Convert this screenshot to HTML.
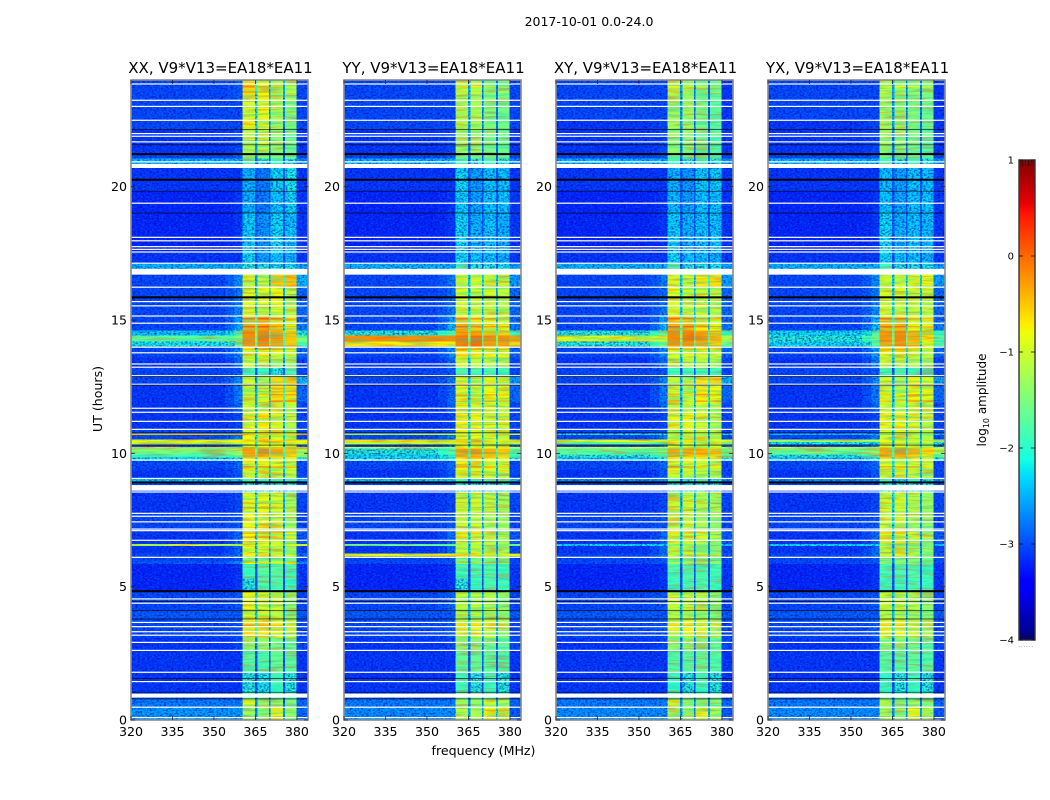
<!DOCTYPE html>
<html>
<head>
<meta charset="utf-8">
<title>2017-10-01 0.0-24.0</title>
<style>
html,body{margin:0;padding:0;background:#fff;width:1050px;height:800px;overflow:hidden}
svg{display:block}
text{font-family:"DejaVu Sans","Liberation Sans",sans-serif;fill:#000}
</style>
</head>
<body>
<svg id="fig" xmlns="http://www.w3.org/2000/svg" width="1050" height="800" viewBox="0 0 1050 800">
<defs>
<filter id="darkNoise" x="0" y="0" width="100%" height="100%" color-interpolation-filters="sRGB">
<feTurbulence type="fractalNoise" baseFrequency="0.42 0.6" numOctaves="2" seed="4"/>
<feColorMatrix values="0 0 0 0 0  0 0 0 0 0  0 0 0 0 0.7  3.2 0 0 0 -1.35"/>
</filter>
<filter id="lightNoise" x="0" y="0" width="100%" height="100%" color-interpolation-filters="sRGB">
<feTurbulence type="fractalNoise" baseFrequency="0.42 0.6" numOctaves="2" seed="11"/>
<feColorMatrix values="0 0 0 0 0  0 0 0 0 0.5  0 0 0 0 1  0 3.2 0 0 -1.45"/>
</filter>
<filter id="coolBands" x="0" y="0" width="100%" height="100%" color-interpolation-filters="sRGB">
<feTurbulence type="fractalNoise" baseFrequency="0.035 0.42" numOctaves="2" seed="7"/>
<feColorMatrix values="0 0 0 0 0  0 0 0 0 0.8  0 0 0 0 0.8  5 0 0 0 -2.2"/>
</filter>
<filter id="hotBands" x="0" y="0" width="100%" height="100%" color-interpolation-filters="sRGB">
<feTurbulence type="fractalNoise" baseFrequency="0.035 0.42" numOctaves="2" seed="19"/>
<feColorMatrix values="0 0 0 0 1  0 0 0 0 0.3  0 0 0 0 0  0 5 0 0 -2.5"/>
</filter>
</defs>
</svg>
<script>
// ---------- chart data ----------
const panelTitles = ['XX, V9*V13=EA18*EA11','YY, V9*V13=EA18*EA11','XY, V9*V13=EA18*EA11','YX, V9*V13=EA18*EA11'];
const xTicks = [320,335,350,365,380];
const yTicks = [0,5,10,15,20];
const colorbarTicks = [1,0,-1,-2,-3,-4];
// frequency band edges (MHz)
const freqEdges = [320,354,357.5,360.4,364.8,365.7,369.9,370.5,375,375.6,379.9,384];
// upper hour of every time row
const rowTops = [24,23.6,23.24,22.49,22.14,21.57,21.22,21.05,20.7,19.83,19.01,17.55,17.13,16.7,16.23,15.5,15.15,14.9,14.6,14.42,14.2,14,13.6,13.2,12.9,12.56,11.9,11.54,10.9,10.75,10.68,10.52,10.42,10.33,10.24,10.18,9.95,9.85,9.72,9.4,9.06,8.91,8.55,7.75,7.1,6.6,6.52,6.24,6.14,5.95,5.85,5.3,4.83,4.1,3.79,3.1,2.6,1.8,1.04,0.79,0.48];
// log10 amplitude per row: [background, shoulder, sub-band 1, 2, 3, 4, upper edge]
const levelsXX = [
[-3,-2.9,-.6,-.75,-1.15,-1.25,-3],[-3,-2.9,-.65,-.85,-1.25,-1.3,-3],[-3,-3,-.95,-.85,-1.25,-1.4,-3],[-3,-3,-.75,-1,-1.35,-1.5,-3],
[-3.1,-3,-1.1,-1.05,-1.4,-1.6,-3.1],[-3.1,-3,-1.2,-1.2,-1.4,-1.6,-3.1],[-3,-2.9,-1.4,-1.4,-1.5,-1.6,-3],[-2.4,-2.4,-1.9,-2,-1.9,-2,-2.6],
[-3.1,-3.1,-2.4,-2.7,-2.2,-2.1,-3.1],[-3.2,-3.1,-2.4,-2.7,-2.3,-2.2,-3.1],[-3.2,-3.1,-2.25,-2.55,-2.2,-2.3,-3.1],[-3.1,-3.1,-2.2,-2.5,-2.3,-2.4,-3.1],
[-2.4,-2.4,-2,-2,-2.1,-2.1,-2.5],[-3,-2.6,-1,-1.1,-.55,-.5,-2.4],[-3,-2.7,-.9,-.9,-.8,-1.1,-2.8],[-3,-2.6,-1,-1,-.9,-1.1,-2.8],
[-3,-2.5,-.5,-.4,-.7,-.95,-2.8],[-3,-2.4,-.4,-.35,-.7,-.9,-2.7],[-2.3,-1.9,-.2,-.15,-.35,-.5,-2],[-1.7,-1.4,-.2,-.1,-.3,-.5,-1.5],
[-2.1,-1.7,-.25,-.2,-.35,-.6,-1.8],[-3,-2.6,-.9,-.8,-.9,-1,-2.8],[-3.1,-2.8,-1,-1.1,-1.3,-1.2,-3],[-3,-2.9,-1.9,-1.9,-2,-1.9,-3],
[-3,-2.6,-1,-1.2,-.6,-.55,-2.4],[-3.1,-2.7,-1.05,-1.1,-.65,-.7,-2.8],[-3.1,-2.8,-1,-1.05,-.9,-1,-3],[-3.1,-3,-.85,-.75,-.95,-1.1,-3],
[-3,-2.9,-.9,-.9,-1,-1.1,-3],[-.5,-.5,-.5,-.5,-.6,-.6,-.5],[-3,-2.7,-.8,-.75,-.9,-1.1,-3],[-.75,-.75,-.6,-.6,-.7,-.7,-.75],
[-1,-1,-.8,-.8,-.9,-1,-1],[-3,-2.6,-.9,-.9,-1,-1.1,-2.8],[-.6,-.6,-.5,-.5,-.5,-.5,-.6],[-1.5,-1.3,-.3,-.2,-.35,-.5,-1.2],
[-1.9,-1.5,-.4,-.4,-.5,-.6,-1.5],[-2.2,-2,-.7,-.8,-.8,-.9,-2],[-3,-2.8,-.85,-.75,-.9,-1,-3],[-3.1,-2.9,-1,-.9,-1.1,-1.15,-3],
[-2.3,-2.3,-1.7,-1.9,-1.8,-1.9,-2.3],[-3,-3,-2,-2,-2,-2,-3],[-3.1,-3,-.9,-.85,-.95,-1.2,-3],[-3,-2.9,-.85,-.8,-1,-1.2,-3],
[-3.1,-2.8,-.8,-.85,-1,-1.2,-2.9],[-1,-1,-.9,-.9,-.9,-1,-1],[-3.1,-2.8,-.9,-.9,-1.05,-1.3,-3],[-3,-2.7,-.8,-.8,-.9,-1,-2.8],
[-3,-2.9,-1.5,-1.5,-1.5,-1.6,-3],[-2.9,-2.5,-.8,-.7,-.8,-.9,-2.6],[-3.2,-3.1,-1.9,-1.7,-1.7,-1.8,-3.1],[-3.2,-3.1,-2,-1.8,-1.8,-1.9,-3.1],
[-3,-2.9,-.85,-.9,-1,-1.35,-3],[-2.9,-2.9,-1,-1,-1.1,-1.4,-2.9],[-3,-2.9,-.7,-.65,-.8,-1.05,-3],[-3.1,-3,-1.3,-1.4,-1.5,-1.6,-3],
[-3.1,-3.1,-1.7,-1.8,-1.6,-1.7,-3.1],[-3.1,-3.1,-2,-2.1,-1.9,-2,-3.1],[-3,-3,-1.9,-1.9,-1.9,-1.9,-3],[-2.7,-2.7,-.9,-1.4,-1.4,-1.6,-2.8],
[-2.55,-2.55,-1.3,-1.4,-.9,-1.3,-2.8]];
const levelsYY = [
[-3,-3,-1.1,-1.15,-1.4,-1.5,-3],[-3,-3,-1.15,-1.2,-1.45,-1.5,-3],[-3,-3,-1.2,-1.2,-1.45,-1.55,-3],[-3,-3,-1.15,-1.2,-1.45,-1.55,-3],
[-3.1,-3,-1.25,-1.3,-1.5,-1.6,-3.1],[-3.1,-3,-1.3,-1.35,-1.5,-1.6,-3.1],[-3,-2.9,-1.5,-1.5,-1.6,-1.7,-3],[-2.4,-2.4,-1.9,-2,-1.9,-2,-2.6],
[-3.1,-3.1,-2.2,-2.5,-2.3,-2.3,-3.1],[-3.2,-3.1,-2.25,-2.5,-2.3,-2.3,-3.1],[-3.2,-3.1,-2.2,-2.4,-2.3,-2.4,-3.1],[-3.1,-3.1,-2.2,-2.3,-2.3,-2.4,-3.1],
[-2.4,-2.4,-1.9,-2,-2,-2.1,-2.5],[-3,-2.7,-1,-1,-1,-1.05,-2.5],[-3,-2.8,-.95,-1,-1,-1.1,-2.8],[-3,-2.7,-.95,-1,-1,-1.1,-2.8],
[-3,-2.5,-.55,-.7,-.85,-1,-2.8],[-3,-2.4,-.4,-.6,-.8,-.95,-2.7],[-2,-1.8,-.3,-.3,-.5,-.55,-1.9],[-.2,-.2,-.1,-.05,-.2,-.2,-.3],
[-.7,-.7,-.15,-.1,-.3,-.3,-.6],[-3,-2.6,-.7,-.75,-.8,-.9,-2.8],[-3.1,-2.8,-.95,-1.1,-1.1,-1.2,-3],[-3,-2.9,-1.8,-1.8,-1.8,-1.9,-3],
[-3,-2.7,-.85,-1.05,-.85,-.9,-2.5],[-3.1,-2.8,-.85,-1,-.8,-.9,-2.8],[-3.1,-2.9,-.85,-1,-.9,-1,-3],[-3.1,-3,-.75,-.8,-.9,-1,-3],
[-3,-2.9,-.85,-.9,-1,-1.1,-3],[-1.1,-1.1,-.9,-.9,-1,-1,-1.1],[-3,-2.7,-.85,-.85,-.95,-1.1,-3],[-.65,-.65,-.55,-.6,-.7,-.7,-.65],
[-1.1,-1.1,-.9,-.9,-1,-1,-1.1],[-3,-2.6,-.9,-.95,-1,-1.1,-2.8],[-.9,-.9,-.7,-.7,-.8,-.8,-.9],[-2,-1.8,-.35,-.3,-.4,-.5,-1.8],
[-2.2,-1.9,-.4,-.4,-.5,-.6,-1.9],[-2.2,-2,-.7,-.8,-.8,-.9,-2],[-3,-2.8,-.75,-.8,-.9,-1,-3],[-3.1,-2.9,-.9,-.95,-1,-1.1,-3],
[-2.3,-2.3,-1.7,-1.9,-1.8,-1.9,-2.3],[-3,-3,-2,-2,-2,-2,-3],[-3.1,-3,-1,-1,-1.1,-1.25,-3],[-3,-2.9,-1,-.95,-1.2,-1.3,-3],
[-3.1,-2.8,-.9,-.95,-1.1,-1.3,-2.9],[-1.6,-1.6,-1.2,-1.2,-1.2,-1.3,-1.6],[-3.1,-2.8,-1,-.95,-1.15,-1.3,-3],[-.85,-.85,-.7,-.7,-.75,-.8,-.85],
[-3,-2.9,-1.5,-1.5,-1.5,-1.6,-3],[-3,-2.9,-1.3,-1.3,-1.3,-1.4,-3],[-3.2,-3.1,-1.85,-1.8,-1.75,-1.85,-3.1],[-3.2,-3.1,-2,-1.9,-1.8,-1.9,-3.1],
[-3,-2.8,-1.05,-1.1,-1.15,-1.35,-3],[-2.9,-2.9,-1.2,-1.15,-1.25,-1.4,-2.9],[-3,-2.9,-.95,-.85,-1,-1.25,-3],[-3.1,-3,-1.4,-1.4,-1.5,-1.65,-3],
[-3.1,-3.1,-1.65,-1.65,-1.65,-1.75,-3.1],[-3.1,-3.1,-1.9,-2,-1.9,-2,-3.1],[-3,-3,-1.8,-1.8,-1.8,-1.9,-3],[-2.7,-2.7,-1.3,-1.35,-1,-1.3,-2.8],
[-2.6,-2.6,-1.15,-1.2,-.75,-.95,-2.9]];
const levelsXY = [
[-3,-3,-1.25,-1.25,-1.45,-1.6,-3.1],[-3,-3,-1.25,-1.25,-1.5,-1.65,-3.1],[-3,-3,-1.3,-1.25,-1.5,-1.7,-3.1],[-3.1,-3,-1.25,-1.3,-1.55,-1.7,-3.1],
[-3.1,-3,-1.35,-1.35,-1.55,-1.75,-3.1],[-3.1,-3,-1.4,-1.4,-1.6,-1.75,-3.1],[-3,-2.9,-1.5,-1.5,-1.6,-1.8,-3],[-2.4,-2.4,-1.9,-2,-1.9,-2,-2.6],
[-3.1,-3.1,-2.4,-2.55,-2.25,-2.25,-3.1],[-3.2,-3.1,-2.35,-2.5,-2.3,-2.3,-3.1],[-3.2,-3.1,-2.25,-2.4,-2.3,-2.3,-3.1],[-3.1,-3.1,-2.2,-2.3,-2.3,-2.4,-3.1],
[-2.4,-2.4,-1.9,-2,-2,-2.1,-2.5],[-3,-2.7,-1,-1.05,-.7,-.65,-2.5],[-3,-2.8,-.9,-1,-.95,-1.1,-2.8],[-3,-2.7,-.95,-1,-1,-1.1,-2.8],
[-3,-2.5,-.55,-.55,-.8,-.95,-2.8],[-3,-2.4,-.4,-.4,-.7,-.9,-2.7],[-2,-1.7,-.2,-.15,-.4,-.5,-1.8],[-.95,-.95,-.2,-.1,-.3,-.4,-1.2],
[-2,-1.6,-.3,-.25,-.4,-.55,-1.6],[-3,-2.6,-.9,-.85,-.9,-1,-2.8],[-3.1,-2.8,-1.05,-1.05,-1.15,-1.2,-3],[-3,-2.9,-1.85,-1.85,-1.85,-1.9,-3],
[-3,-2.6,-1.05,-1.15,-.7,-.6,-2.4],[-3.1,-2.7,-1,-1.1,-.7,-.8,-2.8],[-3.1,-2.8,-1,-1.05,-.95,-1.1,-3],[-3.1,-3,-.85,-.8,-.95,-1.2,-3],
[-3,-2.9,-1,-.9,-1.05,-1.15,-3],[-2,-2,-1.2,-1.2,-1.2,-1.2,-2],[-3,-2.7,-1,-.95,-1.1,-1.2,-3],[-.85,-.85,-.7,-.7,-.8,-.8,-.85],
[-1.6,-1.6,-1,-1,-1.1,-1.1,-1.5],[-3,-2.6,-1,-1,-1.05,-1.1,-2.8],[-.8,-.8,-.65,-.65,-.7,-.7,-.8],[-1.7,-1.5,-.4,-.35,-.4,-.5,-1.4],
[-2,-1.7,-.5,-.5,-.55,-.65,-1.7],[-2.3,-2,-.8,-.8,-.85,-.95,-2],[-3,-2.8,-.85,-.9,-1,-1.1,-3],[-3.1,-2.9,-1,-1.05,-1.1,-1.2,-3],
[-2.6,-2.6,-1.8,-2,-1.9,-2,-2.6],[-3,-3,-2,-2,-2,-2,-3],[-3.1,-3,-1.05,-1,-1.15,-1.25,-3],[-3,-2.9,-1,-1,-1.2,-1.35,-3],
[-3.1,-2.8,-1,-1,-1.15,-1.35,-2.9],[-2.2,-2.2,-1.3,-1.3,-1.4,-1.5,-2.3],[-3.1,-2.8,-1.1,-1.05,-1.25,-1.4,-3],[-3,-2.7,-1,-.95,-1.1,-1.25,-2.9],
[-3,-2.9,-1.5,-1.5,-1.5,-1.6,-3],[-3,-2.9,-1.3,-1.25,-1.3,-1.4,-3],[-3.2,-3.1,-1.8,-1.75,-1.75,-1.85,-3.1],[-3.2,-3.1,-1.9,-1.85,-1.8,-1.9,-3.1],
[-3,-2.9,-1,-1.05,-1.15,-1.4,-3],[-2.9,-2.9,-1.15,-1.15,-1.25,-1.45,-2.9],[-3,-2.9,-.85,-.8,-.95,-1.2,-3],[-3.1,-3,-1.4,-1.4,-1.5,-1.65,-3],
[-3.1,-3.1,-1.7,-1.7,-1.65,-1.75,-3.1],[-3.1,-3.1,-1.95,-2,-1.9,-2,-3.1],[-3,-3,-1.85,-1.85,-1.85,-1.9,-3],[-2.7,-2.7,-1.1,-1.35,-1.3,-1.5,-2.8],
[-2.6,-2.6,-1.25,-1.35,-.85,-1.25,-2.9]];
const levelsYX = [
[-3,-3,-1.2,-1.25,-1.4,-1.5,-3.1],[-3,-3,-1.25,-1.3,-1.45,-1.55,-3.1],[-3,-3,-1.25,-1.3,-1.45,-1.55,-3.1],[-3.1,-3,-1.25,-1.3,-1.5,-1.6,-3.1],
[-3.1,-3,-1.3,-1.35,-1.5,-1.65,-3.1],[-3.1,-3,-1.35,-1.4,-1.55,-1.7,-3.1],[-3,-2.9,-1.5,-1.5,-1.6,-1.75,-3],[-2.4,-2.4,-1.9,-2,-1.9,-2,-2.6],
[-3.1,-3.1,-2.3,-2.5,-2.3,-2.3,-3.1],[-3.2,-3.1,-2.3,-2.45,-2.3,-2.3,-3.1],[-3.2,-3.1,-2.2,-2.4,-2.3,-2.35,-3.1],[-3.1,-3.1,-2.2,-2.3,-2.3,-2.4,-3.1],
[-2.4,-2.4,-1.9,-2,-2,-2.1,-2.5],[-3,-2.6,-1,-1,-.9,-.85,-2.5],[-3,-2.7,-.9,-.95,-1,-1.05,-2.8],[-3,-2.6,-.95,-.95,-1.05,-1.1,-2.8],
[-3,-2.4,-.5,-.55,-.85,-.95,-2.8],[-3,-2.3,-.45,-.45,-.8,-.95,-2.7],[-2.2,-1.8,-.25,-.2,-.45,-.6,-1.9],[-2,-1.6,-.25,-.15,-.4,-.7,-1.8],
[-2.2,-1.7,-.35,-.25,-.5,-.8,-1.8],[-3,-2.5,-.85,-.8,-.95,-1.1,-2.8],[-3.1,-2.7,-.95,-1.05,-1.15,-1.25,-3],[-3,-2.9,-1.85,-1.85,-1.9,-1.9,-3],
[-3,-2.6,-1,-1.2,-.75,-.95,-2.5],[-3.1,-2.7,-.95,-1.1,-.75,-.85,-2.8],[-3.1,-2.8,-.9,-1.05,-.95,-1.05,-3],[-3.1,-3,-.8,-.8,-.95,-1.1,-3],
[-3,-2.9,-.95,-.9,-1,-1.15,-3],[-2.3,-2.3,-1.3,-1.3,-1.3,-1.3,-2.3],[-3,-2.7,-.95,-.95,-1.05,-1.15,-3],[-1.2,-1.2,-.8,-.8,-.9,-1,-1.2],
[-2.1,-2.1,-1,-1,-1.1,-1.1,-2],[-3,-2.6,-.95,-.95,-1.05,-1.1,-2.8],[-.8,-.8,-.6,-.5,-.7,-.8,-.8],[-1.6,-1.4,-.35,-.25,-.4,-.6,-1.3],
[-2,-1.7,-.4,-.4,-.55,-.7,-1.6],[-2.3,-2,-.75,-.8,-.85,-.95,-2],[-3,-2.8,-.9,-.9,-1,-1.1,-3],[-3.1,-2.9,-1,-1,-1.1,-1.2,-3],
[-2.6,-2.6,-1.8,-2,-1.9,-2,-2.6],[-3,-3,-2,-2,-2,-2,-3],[-3.1,-3,-1,-1,-1.15,-1.3,-3],[-3,-2.9,-1,-.95,-1.2,-1.35,-3],
[-3.1,-2.8,-.95,-1,-1.15,-1.35,-2.9],[-2.2,-2.2,-1.3,-1.3,-1.4,-1.5,-2.3],[-3.1,-2.8,-1.05,-1.05,-1.25,-1.4,-3],[-3,-2.7,-.95,-.95,-1.1,-1.25,-2.9],
[-3,-2.9,-1.5,-1.5,-1.5,-1.6,-3],[-3,-2.9,-1.3,-1.3,-1.3,-1.4,-3],[-3.2,-3.1,-1.8,-1.8,-1.75,-1.85,-3.1],[-3.2,-3.1,-1.9,-1.85,-1.8,-1.9,-3.1],
[-3,-2.9,-1,-1.05,-1.15,-1.4,-3],[-2.9,-2.9,-1.15,-1.15,-1.25,-1.45,-2.9],[-3,-2.9,-.85,-.85,-1,-1.2,-3],[-3.1,-3,-1.4,-1.4,-1.5,-1.65,-3],
[-3.1,-3.1,-1.7,-1.7,-1.65,-1.75,-3.1],[-3.1,-3.1,-1.95,-2,-1.9,-2,-3.1],[-3,-3,-1.85,-1.85,-1.85,-1.9,-3],[-2.7,-2.7,-1.2,-1.35,-1.3,-1.5,-2.8],
[-2.6,-2.6,-1.25,-1.35,-.85,-1.25,-2.9]];
// brief narrow RFI streaks across the bright sub-bands, in hours
const streakHours = [23.55,23.75,22.0,15.05,14.75,13.9,12.2,11.95,11.4,9.5,9.3,7.95,7.0,6.85,3.55,0.7];
const streakBoost = [0.4,0.4,0.35,0.45,0.4,0.4,0.35,0.35,0.35,0.4,0.4,0.35,0.4,0.4,0.3,0.2];
// flagged (blank) integrations, in hours
const whiteLineHours = [23.85,23.24,23.01,22.49,21.99,21.89,21.68,20.93,19.38,18.1,17.97,17.75,17.65,17.55,17.13,16.23,15.69,15.53,15.15,14.88,13.98,13.77,13.35,13.23,12.91,12.59,11.69,11.54,11.2,10.9,9.75,9.06,8.55,7.75,7.64,7.43,7.16,7.1,6.74,6.1,4.54,4.38,3.66,3.5,3.31,3.18,2.91,2.61,1.79,1.44,0.48,0.09];
const whiteBlockFrom = [20.7,16.7,8.6,0.84];
const whiteBlockTo = [20.85,16.92,8.81,0.99];
const blackLineHours = [22.14,21.57,19.83,19.01,12.88,12.56,10.77,10.31,4.44,4.1,3.79,1.56,1.04,0.79];
const blackThickHours = [21.22,20.26,15.85,8.91,4.83];

// ---------- axes ----------
const panelLeft = [131,344,556,768];
const panelMatrices = [levelsXX,levelsYY,levelsXY,levelsYX];
const panelW = 177, axisTop = 80, axisBottom = 720;
const xScale = (left,f) => left + (f-320)*panelW/64;
const yScale = h => axisBottom - h*(axisBottom-axisTop)/24;
const svg = document.getElementById('fig');
const defs = svg.querySelector('defs');
const NS = 'http://www.w3.org/2000/svg';

function mk(tag, attrs, parent){
  const e = document.createElementNS(NS, tag);
  for (const k in attrs) e.setAttribute(k, attrs[k]);
  (parent||svg).appendChild(e);
  return e;
}
function interp(stops, t){
  for (let i=1;i<stops.length;i++){
    if (t<=stops[i][0]){
      const a=stops[i-1], b=stops[i];
      return a[1]+(b[1]-a[1])*(t-a[0])/(b[0]-a[0]);
    }
  }
  return stops[stops.length-1][1];
}
function jet(v){
  const t = Math.max(0, Math.min(1, (v+4)/5));
  const r = interp([[0,0],[0.35,0],[0.66,1],[0.89,1],[1,0.5]], t);
  const g = interp([[0,0],[0.125,0],[0.375,1],[0.64,1],[0.91,0],[1,0]], t);
  const b = interp([[0,0.5],[0.11,1],[0.34,1],[0.65,0],[1,0]], t);
  return 'rgb('+Math.round(r*255)+','+Math.round(g*255)+','+Math.round(b*255)+')';
}
function gapLevel(a, b){
  return Math.max(Math.min(a,b)-1.2, -2.9);
}
function bandLevel(row, band){
  switch (band){
    case 0: return row[0];
    case 1: return row[0]+(row[1]-row[0])*0.35;
    case 2: return row[1];
    case 3: return row[2];
    case 4: return gapLevel(row[2],row[3]);
    case 5: return row[3];
    case 6: return gapLevel(row[3],row[4]);
    case 7: return row[4];
    case 8: return gapLevel(row[4],row[5]);
    case 9: return row[5];
    default: return row[6];
  }
}

// ---------- panels ----------
panelLeft.forEach((left, p) => {
  const group = mk('g', {});
  
  
  const matrix = panelMatrices[p];

  const cells = mk('g', {'shape-rendering':'crispEdges'}, group);
  
  
  rowTops.forEach((top, r) => {
    const bottom = r+1<rowTops.length ? rowTops[r+1] : 0;
    for (let b=0; b<freqEdges.length-1; b++){
      const x0 = xScale(left, freqEdges[b]), x1 = xScale(left, freqEdges[b+1]);
      const cell = mk('rect', {x:x0, y:yScale(top), width:x1-x0, height:yScale(bottom)-yScale(top), fill:jet(bandLevel(matrix[r], b))}, cells);
      
      
    }
  });

  // narrow streaks over the four bright sub-bands
  streakHours.forEach((h, s) => {
    let r = 0;
    while (r+1 < rowTops.length && rowTops[r+1] >= h) r++;
    [3,5,7,9].forEach(b => {
      const x0 = xScale(left, freqEdges[b]), x1 = xScale(left, freqEdges[b+1]);
      const streak = mk('rect', {x:x0, y:yScale(h)-0.7, width:x1-x0, height:1.4, fill:jet(bandLevel(matrix[r], b)+streakBoost[s])}, cells);
      
      
    });
  });

  // texture follows the level table: speckle on weak cells, banding on bright cells
  const clip = mk('clipPath', {id:'speckle-clip-'+p}, defs);
  const brightClip = mk('clipPath', {id:'bright-clip-'+p}, defs);
  rowTops.forEach((top, r) => {
    const bottom = r+1<rowTops.length ? rowTops[r+1] : 0;
    const y0 = yScale(top), y1 = yScale(bottom);
    for (let b=0; b<freqEdges.length-1; b++){
      const x0 = xScale(left, freqEdges[b]), x1 = xScale(left, freqEdges[b+1]);
      mk('rect', {x:x0, y:y0, width:x1-x0, height:y1-y0}, bandLevel(matrix[r], b) < -1.95 ? clip : brightClip);
    }
  });
  const speckle = mk('g', {'clip-path':'url(#speckle-clip-'+p+')'}, group);
  
  
  const dark = mk('rect', {x:left, y:axisTop, width:panelW, height:axisBottom-axisTop, filter:'url(#darkNoise)', opacity:0.65}, speckle);
  
  
  const light = mk('rect', {x:left, y:axisTop, width:panelW, height:axisBottom-axisTop, filter:'url(#lightNoise)', opacity:0.38}, speckle);
  
  

  const banding = mk('g', {'clip-path':'url(#bright-clip-'+p+')'}, group);
  
  
  const cool = mk('rect', {x:left, y:axisTop, width:panelW, height:axisBottom-axisTop, filter:'url(#coolBands)', opacity:0.3}, banding);
  
  
  const hot = mk('rect', {x:left, y:axisTop, width:panelW, height:axisBottom-axisTop, filter:'url(#hotBands)', opacity:0.3}, banding);
  
  

  whiteLineHours.forEach(h => {
    const line = mk('rect', {x:left, y:yScale(h)-0.6, width:panelW, height:1.2, fill:'#fff'}, group);
    
    
  });
  whiteBlockFrom.forEach((from, i) => {
    const block = mk('rect', {x:left, y:yScale(whiteBlockTo[i]), width:panelW, height:yScale(from)-yScale(whiteBlockTo[i]), fill:'#fff'}, group);
    
    
  });
  blackLineHours.forEach(h => {
    const line = mk('rect', {x:left, y:yScale(h)-0.4, width:panelW, height:0.8, fill:'#000', opacity:0.75}, group);
    
    
  });
  blackThickHours.forEach(h => {
    const line = mk('rect', {x:left, y:yScale(h)-1, width:panelW, height:2, fill:'#000'}, group);
    
    
  });

  const frame = mk('rect', {x:left, y:axisTop, width:panelW, height:axisBottom-axisTop, fill:'none', stroke:'#8a8a8a', 'stroke-width':1.6}, group);
  
  

  xTicks.forEach(f => {
    const x = xScale(left, f);
    const tb = mk('line', {x1:x, x2:x, y1:axisBottom, y2:axisBottom-4, stroke:'#222', 'stroke-width':0.8}, group);
    
    
    const tt = mk('line', {x1:x, x2:x, y1:axisTop, y2:axisTop+4, stroke:'#222', 'stroke-width':0.8}, group);
    
    
    const label = mk('text', {x:x, y:736, 'text-anchor':'middle', 'font-size':12.6}, group);
    label.textContent = f;
    
    
  });
  yTicks.forEach(h => {
    const y = yScale(h);
    const tl = mk('line', {x1:left, x2:left+4, y1:y, y2:y, stroke:'#222', 'stroke-width':0.8}, group);
    
    
    const tr = mk('line', {x1:left+panelW, x2:left+panelW-4, y1:y, y2:y, stroke:'#222', 'stroke-width':0.8}, group);
    
    
    const label = mk('text', {x:left-4, y:y+4.5, 'text-anchor':'end', 'font-size':12.6}, group);
    label.textContent = h;
    
    
  });

  const title = mk('text', {x:left+panelW/2+1, y:73, 'text-anchor':'middle', 'font-size':15}, group);
  title.textContent = panelTitles[p];
  
  
});

// ---------- figure labels ----------
const figTitle = mk('text', {x:589, y:26, 'text-anchor':'middle', 'font-size':12.5});
figTitle.textContent = '2017-10-01 0.0-24.0';



const xLabel = mk('text', {x:483.5, y:755, 'text-anchor':'middle', 'font-size':12.6});
xLabel.textContent = 'frequency (MHz)';



const yLabel = mk('text', {x:0, y:0, 'text-anchor':'middle', 'font-size':12.6, transform:'translate(102 399) rotate(-90)'});
yLabel.textContent = 'UT (hours)';



// ---------- colorbar ----------
const cbX = 1019, cbW = 16, cbTop = 160, cbBottom = 640;
const cbScale = v => cbBottom - (v+4)*(cbBottom-cbTop)/5;
const cb = mk('g', {'shape-rendering':'crispEdges'});


for (let py = cbTop; py < cbBottom; py += 2){
  const v = -4 + (cbBottom-py-1)*5/(cbBottom-cbTop);
  const strip = mk('rect', {x:cbX, y:py, width:cbW, height:2, fill:jet(v)}, cb);
  
  
}
const cbFrame = mk('rect', {x:cbX, y:cbTop, width:cbW, height:cbBottom-cbTop, fill:'none', stroke:'#333', 'stroke-width':1.4});


colorbarTicks.forEach(v => {
  const y = cbScale(v);
  const tl = mk('line', {x1:cbX, x2:cbX+4, y1:y, y2:y, stroke:'#111', 'stroke-width':0.8});
  
  
  const tr = mk('line', {x1:cbX+cbW, x2:cbX+cbW-4, y1:y, y2:y, stroke:'#111', 'stroke-width':0.8});
  
  
  const label = mk('text', {x:1014, y:y+3.5, 'text-anchor':'end', 'font-size':10});
  label.textContent = v < 0 ? '\u2212' + Math.abs(v) : String(v);
  
  
});
for (let i = 1; i <= 4; i++){
  const topMark = mk('line', {x1:cbX+i*3.2, x2:cbX+i*3.2, y1:cbTop, y2:cbTop+6, stroke:'#111', 'stroke-width':0.7});
  
  
  const bottomMark = mk('line', {x1:cbX+i*3.2, x2:cbX+i*3.2, y1:cbBottom, y2:cbBottom-6, stroke:'#111', 'stroke-width':0.7});
  
  
}
const dots = mk('text', {x:1026, y:647, 'text-anchor':'middle', 'font-size':6, 'letter-spacing':'0.7', style:'fill:#777'});
dots.textContent = '......';



const cbLabel = mk('text', {x:0, y:0, 'text-anchor':'middle', 'font-size':12, transform:'translate(986 400) rotate(-90)'});


cbLabel.appendChild(document.createTextNode('log'));
const sub = mk('tspan', {dy:3, 'font-size':8}, cbLabel);
sub.textContent = '10';
const rest = mk('tspan', {dy:-3}, cbLabel);
rest.textContent = ' amplitude';
</script>
</body>
</html>
